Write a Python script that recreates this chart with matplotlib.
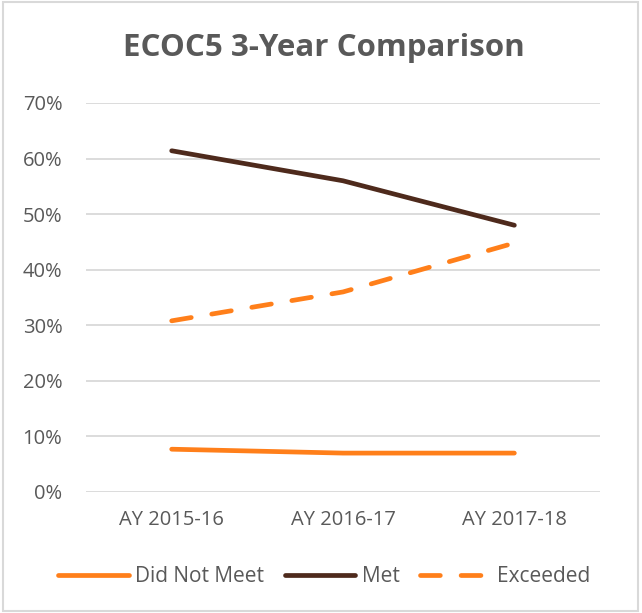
import matplotlib
matplotlib.use("Agg")
import matplotlib.pyplot as plt
from matplotlib.patches import Rectangle
from matplotlib.ticker import PercentFormatter

plt.rcParams['font.family'] = ['Open Sans', 'DejaVu Sans']

# data
years = ['AY 2015-16', 'AY 2016-17', 'AY 2017-18']
did_not_meet = [7.7, 7.0, 7.0]
met = [61.4, 56.0, 48.0]
exceeded = [30.8, 36.0, 44.8]

orange = '#FF7F1A'
brown = '#4E2A1C'
txt = '#595959'
grid = '#D9D9D9'

fig = plt.figure(figsize=(6.42, 6.13), dpi=100)
ax = fig.add_axes([0.134, 0.1974, 0.8006, 0.6346])

x = range(len(years))
ax.plot(x, did_not_meet, color=orange, lw=3.4, solid_capstyle='round',
        label='Did Not Meet')
ax.plot(x, met, color=brown, lw=3.4, solid_capstyle='round', label='Met')
ax.plot(x, exceeded, color=orange, lw=3.4, dashes=(4.2, 4.4),
        dash_capstyle='round', label='Exceeded')

ax.set_xlim(-0.5, len(years) - 0.5)
ax.set_ylim(0, 70)
ax.set_yticks(range(0, 71, 10))
ax.yaxis.set_major_formatter(PercentFormatter(decimals=0))
ax.set_xticks(list(x))
ax.set_xticklabels(years)
ax.tick_params(length=0, labelsize=14.5, colors=txt)
ax.tick_params(axis='y', pad=17)
ax.tick_params(axis='x', pad=13)
ax.yaxis.grid(True, color=grid, lw=1.3)
ax.set_axisbelow(True)
for s in ax.spines.values():
    s.set_visible(False)

fig.text(0.505, 0.922, 'ECOC5 3-Year Comparison', ha='center', va='center',
         fontsize=22.5, fontweight='bold', color=txt)

leg = fig.legend(loc='center', bbox_to_anchor=(0.505, 0.059), ncol=3,
                 frameon=False, fontsize=15, handlelength=3.4,
                 handletextpad=0.3, columnspacing=1.0)
for t in leg.get_texts():
    t.set_color(txt)

fig.add_artist(Rectangle((0.004, 0.004), 0.99, 0.992, transform=fig.transFigure,
                         fill=False, edgecolor=grid, lw=1.5))

fig.savefig('out.png', dpi=100)
